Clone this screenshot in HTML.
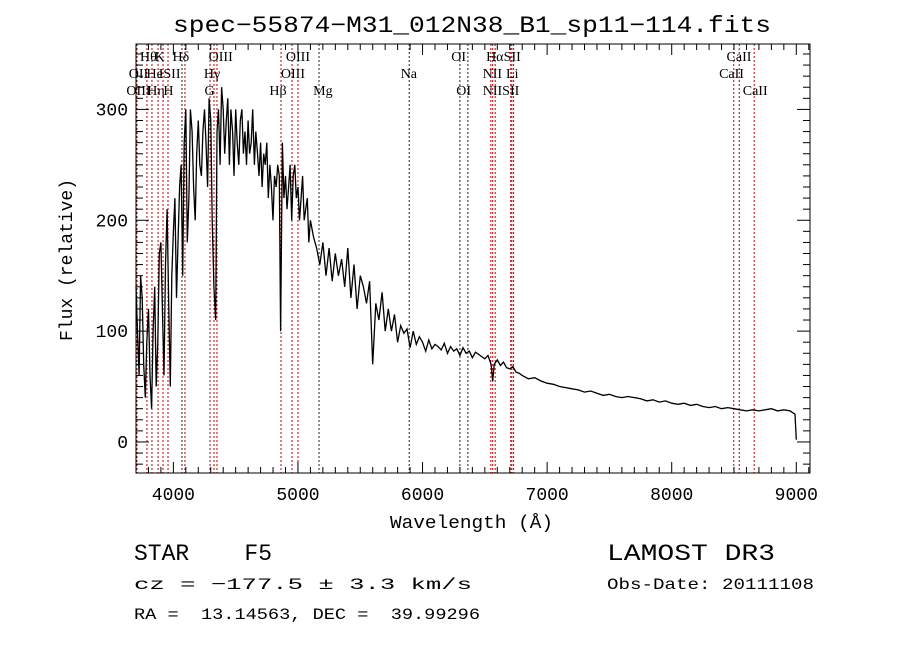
<!DOCTYPE html>
<html><head><meta charset="utf-8"><style>
body{margin:0;background:#fff;width:900px;height:649px;overflow:hidden}
svg{display:block}
text{fill:#000}
</style></head><body>
<svg id="chart" width="900" height="649" viewBox="0 0 900 649" xmlns="http://www.w3.org/2000/svg">
<text x="173" y="32" textLength="598" lengthAdjust="spacingAndGlyphs" font-family="Liberation Mono, monospace" font-size="23">spec−55874−M31_012N38_B1_sp11−114.fits</text>
<g id="lines"></g>
<g id="ticks"></g>
<path id="spec" fill="none" stroke="#000" stroke-width="1.3"/>
<rect x="136" y="44" width="674" height="429" fill="none" stroke="#000" stroke-width="1"/>
<text x="390" y="528" textLength="163" lengthAdjust="spacingAndGlyphs" font-family="Liberation Mono, monospace" font-size="18">Wavelength (Å)</text>
<text transform="translate(72,260) rotate(-90)" text-anchor="middle" font-family="Liberation Mono, monospace" font-size="18">Flux (relative)</text>
<text x="134" y="560" textLength="138" lengthAdjust="spacingAndGlyphs" font-family="Liberation Mono, monospace" font-size="23" xml:space="preserve">STAR    F5</text>
<text x="607" y="560" textLength="168" lengthAdjust="spacingAndGlyphs" font-family="Liberation Mono, monospace" font-size="23">LAMOST DR3</text>
<text x="134" y="589" textLength="338" lengthAdjust="spacingAndGlyphs" font-family="Liberation Mono, monospace" font-size="16">cz = −177.5 ± 3.3 km/s</text>
<text x="607" y="589" textLength="207" lengthAdjust="spacingAndGlyphs" font-family="Liberation Mono, monospace" font-size="16">Obs-Date: 20111108</text>
<text x="134" y="619" textLength="346" lengthAdjust="spacingAndGlyphs" font-family="Liberation Mono, monospace" font-size="16" xml:space="preserve">RA =  13.14563, DEC =  39.99296</text>
</svg>
<script>
const waves=[3700,3712,3725,3737,3750,3762,3775,3787,3800,3812,3825,3837,3850,3862,3875,3887,3900,3912,3925,3937,3950,3962,3975,3987,4000,4012,4025,4037,4050,4062,4075,4087,4100,4112,4125,4137,4150,4162,4175,4187,4200,4212,4225,4237,4250,4262,4275,4287,4300,4312,4325,4340,4350,4362,4375,4387,4400,4412,4425,4437,4450,4462,4475,4487,4500,4512,4525,4537,4550,4562,4575,4587,4600,4612,4625,4637,4650,4662,4675,4687,4700,4712,4725,4737,4750,4762,4775,4787,4800,4812,4825,4837,4850,4861,4875,4887,4900,4912,4925,4937,4950,4962,4975,4987,5000,5012,5025,5037,5050,5062,5075,5087,5100,5125,5150,5175,5200,5225,5250,5275,5300,5325,5350,5375,5400,5425,5450,5475,5500,5525,5550,5575,5600,5625,5650,5675,5700,5725,5750,5775,5800,5825,5850,5875,5900,5925,5950,5975,6000,6025,6050,6075,6100,6125,6150,6175,6200,6225,6250,6275,6300,6325,6350,6375,6400,6425,6450,6475,6500,6525,6550,6563,6575,6600,6625,6650,6675,6700,6725,6750,6775,6800,6850,6900,6950,7000,7050,7100,7150,7200,7250,7300,7350,7400,7450,7500,7550,7600,7650,7700,7750,7800,7850,7900,7950,8000,8050,8100,8150,8200,8250,8300,8350,8400,8450,8500,8550,8600,8650,8700,8750,8800,8850,8900,8950];
const flux=[140,100,60,150,130,70,40,90,120,60,30,100,140,50,90,170,180,120,60,160,210,130,50,150,190,220,130,180,230,250,150,270,300,180,220,300,280,230,200,260,290,250,240,280,300,270,230,310,290,200,140,110,280,300,250,320,300,260,290,310,250,300,280,240,300,270,250,290,300,260,280,250,290,260,270,300,250,280,260,240,270,230,260,250,270,220,250,230,200,240,230,250,240,100,270,220,240,210,230,250,200,240,250,220,230,200,220,240,200,210,220,180,200,185,175,160,180,150,175,145,170,150,165,140,175,130,160,120,150,140,125,145,70,125,110,135,100,120,100,115,90,105,98,102,85,100,88,95,90,82,92,84,88,86,83,89,80,86,82,84,78,85,80,82,76,81,79,77,75,78,70,55,70,74,69,72,67,66,68,63,62,60,57,58,55,53,52,50,49,48,47,45,46,44,42,43,41,40,41,40,39,37,38,36,37,35,34,35,33,34,32,31,32,30,31,30,29,28,29,28,29,30,28,29,28,27,28,27,26,27,26];
const tailWaves=[8990,9000];
const tailFlux=[25,2];
const lineWaves=[3708,3788,3828,3877,3917,3957,4069,4093,4294,4326,4350,4864,4952,5000,5169,5893,6300,6364,6548,6563,6583,6708,6717,6731,8498,8542,8662];
const lineBlack=[0,0,0,0,0,0,1,0,0,0,0,0,0,0,1,1,1,1,0,0,0,0,0,0,0,0,0];
const labelText=["Hθ","K","Hδ","OIII","OIII","OI","Hα","SII","CaII","OII","He","ISII","Hγ","OIII","Na","NII","Li","CaII","OIII","Hη","H","G","Hβ","Mg","OI","NIISII","CaII"];
const labelWave=[3800,3890,4060,4380,5000,6290,6580,6720,8540,3720,3850,3970,4310,4960,5890,6560,6720,8480,3720,3860,3960,4290,4840,5200,6330,6630,8670];
const labelRow=[0,0,0,0,0,0,0,0,0,1,1,1,1,1,1,1,1,1,2,2,2,2,2,2,2,2,2];
const xTicks=[4000,5000,6000,7000,8000,9000];
const yTicks=[0,100,200,300];
const X0=3700,X1=9110,Y0=-28,Y1=359;
const L=136,R=810,T=44,B=473;
const xs=w=>L+(w-X0)/(X1-X0)*(R-L);
const ys=f=>B-(f-Y0)/(Y1-Y0)*(B-T);
const NS="http://www.w3.org/2000/svg";
const lines=document.getElementById('lines'),ticks=document.getElementById('ticks');
function mk(tag,at,parent){const e=document.createElementNS(NS,tag);for(const k in at)e.setAttribute(k,at[k]);parent.appendChild(e);return e;}
lineWaves.forEach((w,i)=>{const x=xs(w);
 const l=mk('line',{x1:x,x2:x,y1:T,y2:B,stroke:lineBlack[i]?'#222':'#c00000','stroke-width':1,'stroke-dasharray':'2,2'},lines);
 
 });
labelText.forEach((t,i)=>{const e=mk('text',{x:xs(labelWave[i]),y:61+labelRow[i]*17,'text-anchor':'middle','font-family':'Liberation Serif, serif','font-size':14},lines);e.textContent=t;
 
 });
for(let w=3700;w<=9100;w+=100){const x=xs(w);const len=(w%1000===0)?11:6;
 mk('line',{x1:x,x2:x,y1:B,y2:B-len,stroke:'#000'},ticks);mk('line',{x1:x,x2:x,y1:T,y2:T+len,stroke:'#000'},ticks);}
for(let f=-20;f<=350;f+=10){const y=ys(f);const len=(f%100===0)?13:7;
 mk('line',{x1:L,x2:L+len,y1:y,y2:y,stroke:'#000'},ticks);mk('line',{x1:R,x2:R-len,y1:y,y2:y,stroke:'#000'},ticks);}
xTicks.forEach(v=>{const e=mk('text',{x:xs(v),y:500,'text-anchor':'middle','font-family':'Liberation Mono, monospace','font-size':18},ticks);e.textContent=v;
 
 });
yTicks.forEach(v=>{const e=mk('text',{x:128,y:ys(v)+6,'text-anchor':'end','font-family':'Liberation Mono, monospace','font-size':18},ticks);e.textContent=v;
 
 });
const n=Math.min(waves.length,flux.length);
const W=waves.slice(0,n).concat(tailWaves),F=flux.slice(0,n).concat(tailFlux);
let d='';for(let i=0;i<W.length;i++){d+=(i?'L':'M')+xs(W[i]).toFixed(1)+','+ys(F[i]).toFixed(1);}
document.getElementById('spec').setAttribute('d',d);
</script>
</body></html>
